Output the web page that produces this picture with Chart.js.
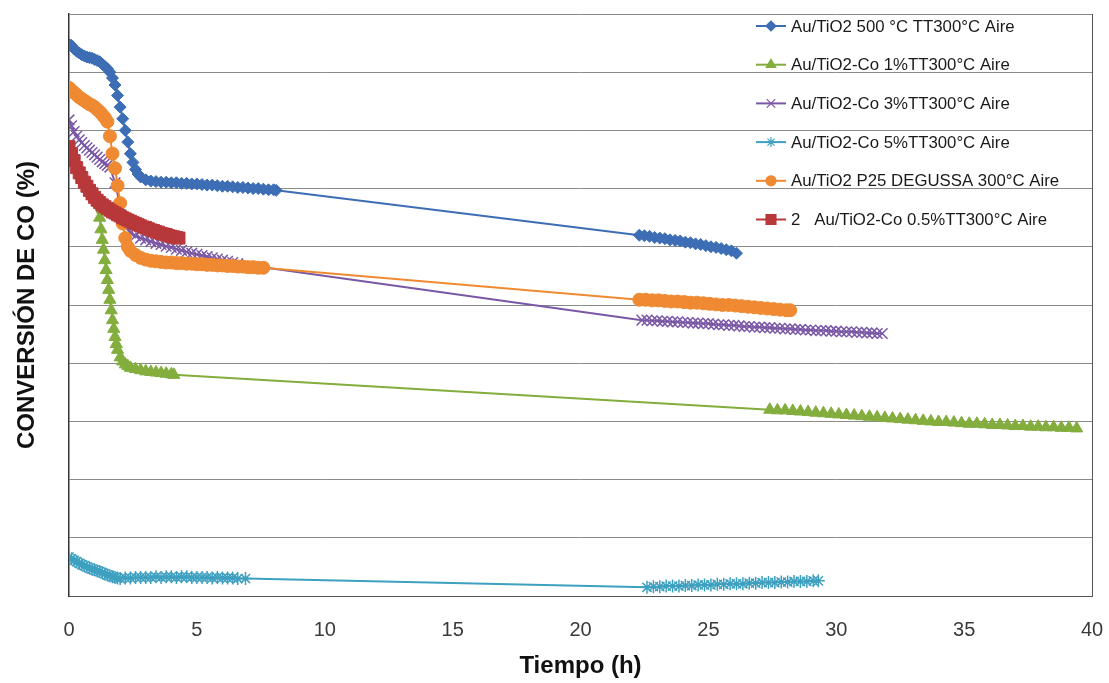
<!DOCTYPE html>
<html>
<head>
<meta charset="utf-8">
<script src="https://cdn.jsdelivr.net/npm/chart.js@4.4.1/dist/chart.umd.min.js"></script>
<style>
html,body{margin:0;padding:0;background:#fff;}
#wrap{position:relative;width:1109px;height:683px;}
</style>
</head>
<body>
<div id="wrap"><canvas id="c" width="1109" height="683"></canvas></div>
<script>
// ---- data ----
const seriesNames = [
  "Au/TiO2 500 \u00B0C TT300\u00B0C Aire",
  "Au/TiO2-Co 1%TT300\u00B0C Aire",
  "Au/TiO2-Co 3%TT300\u00B0C Aire",
  "Au/TiO2-Co 5%TT300\u00B0C Aire",
  "Au/TiO2 P25 DEGUSSA 300\u00B0C Aire",
  "2   Au/TiO2-Co 0.5%TT300\u00B0C Aire"
];
const xTicks = [0, 5, 10, 15, 20, 25, 30, 35, 40];

const blueTime = [0,0.1,0.2,0.3,0.4,0.5,0.6,0.7,0.8,0.9,1.0,1.1,1.2,1.3,1.4,1.5,1.6,1.7,1.8,1.9,2.0,2.1,2.2,2.3,2.4,2.5,2.6,2.7,2.8,3.0,3.2,3.4,3.6,3.8,4.0,4.2,4.4,4.6,4.8,5.0,5.2,5.4,5.6,5.8,6.0,6.2,6.4,6.6,6.8,7.0,7.2,7.4,7.6,7.8,8.0,8.1,
  22.3,22.5,22.7,22.9,23.1,23.3,23.5,23.7,23.9,24.1,24.3,24.5,24.7,24.9,25.1,25.3,25.5,25.7,25.9,26.1];
const blueConv = [94.8,94.6,94.0,93.6,93.3,93.0,92.8,92.6,92.5,92.4,92.2,92.0,91.8,91.4,91.0,90.6,90.0,89.0,87.8,86.0,84.0,82.0,80.0,78.0,76.0,74.5,73.3,72.5,72.0,71.5,71.3,71.2,71.1,71.1,71.0,71.0,70.9,70.9,70.8,70.8,70.7,70.6,70.6,70.5,70.4,70.4,70.3,70.2,70.2,70.1,70.0,70.0,69.9,69.8,69.8,69.7,
  62.0,61.9,61.8,61.6,61.5,61.4,61.2,61.1,61.0,60.8,60.7,60.5,60.4,60.2,60.0,59.9,59.7,59.5,59.3,58.9];

const greenTime = [0,1.2,1.25,1.3,1.35,1.4,1.45,1.5,1.55,1.6,1.65,1.7,1.75,1.8,1.85,1.9,2.0,2.1,2.2,2.3,2.4,2.6,2.8,3.0,3.2,3.4,3.6,3.8,4.0,4.1,
  27.4,27.7,28.0,28.3,28.6,28.9,29.2,29.5,29.8,30.1,30.4,30.7,31.0,31.3,31.6,31.9,32.2,32.5,32.8,33.1,33.4,33.7,34.0,34.3,34.6,34.9,35.2,35.5,35.8,36.1,36.4,36.7,37.0,37.3,37.6,37.9,38.2,38.5,38.8,39.1,39.4];
const greenConv = [76.5,65.0,63.0,61.2,59.5,57.7,56.0,54.3,52.6,50.9,49.1,47.4,45.9,44.5,43.3,42.3,41.0,40.3,39.8,39.5,39.2,39.0,38.8,38.6,38.5,38.4,38.3,38.2,38.1,38.0,
  32.0,31.9,31.9,31.8,31.7,31.6,31.5,31.4,31.3,31.2,31.1,31.0,30.9,30.8,30.7,30.6,30.5,30.4,30.3,30.2,30.1,30.0,29.9,29.9,29.8,29.7,29.6,29.6,29.5,29.4,29.4,29.3,29.2,29.2,29.1,29.1,29.0,29.0,28.9,28.9,28.8];

const purpleTime = [0,0.1,0.2,0.3,0.4,0.5,0.6,0.7,0.8,0.9,1.0,1.1,1.2,1.3,1.4,1.5,1.6,1.8,2.0,2.2,2.4,2.6,2.8,3.0,3.2,3.4,3.6,3.8,4.0,4.2,4.4,4.6,4.8,5.0,5.2,5.4,5.6,5.8,6.0,6.2,6.4,6.6,
  22.4,22.6,22.8,23.0,23.2,23.4,23.6,23.8,24.0,24.2,24.4,24.6,24.8,25.0,25.2,25.4,25.6,25.8,26.0,26.2,26.4,26.6,26.8,27.0,27.2,27.4,27.6,27.8,28.0,28.2,28.4,28.6,28.8,29.0,29.2,29.4,29.6,29.8,30.0,30.2,30.4,30.6,30.8,31.0,31.2,31.4,31.6,31.8];
const purpleConv = [81.8,80.8,79.8,79.0,78.4,77.9,77.4,77.0,76.6,76.2,75.8,75.4,75.0,74.6,74.3,74.0,73.7,71.0,67.0,64.0,62.4,61.9,61.5,61.2,60.9,60.6,60.4,60.1,59.9,59.6,59.4,59.1,58.9,58.7,58.5,58.3,58.1,57.9,57.7,57.5,57.3,57.1,
  47.4,47.4,47.3,47.3,47.2,47.2,47.1,47.1,47.0,47.0,46.9,46.9,46.8,46.8,46.7,46.6,46.6,46.5,46.5,46.4,46.3,46.3,46.2,46.2,46.1,46.1,46.0,46.0,45.9,45.9,45.8,45.8,45.7,45.7,45.6,45.6,45.6,45.5,45.5,45.4,45.4,45.4,45.3,45.3,45.2,45.2,45.1,45.1];

const tealTime = [0,0.1,0.2,0.3,0.4,0.5,0.6,0.7,0.8,0.9,1.0,1.1,1.2,1.3,1.4,1.5,1.6,1.7,1.8,1.9,2.0,2.2,2.4,2.6,2.8,3.0,3.2,3.4,3.6,3.8,4.0,4.2,4.4,4.6,4.8,5.0,5.2,5.4,5.6,5.8,6.0,6.2,6.4,6.6,6.9,
  22.6,22.85,23.1,23.35,23.6,23.85,24.1,24.35,24.6,24.85,25.1,25.35,25.6,25.85,26.1,26.35,26.6,26.85,27.1,27.35,27.6,27.85,28.1,28.35,28.6,28.85,29.1,29.3];
const tealConv = [6.7,6.4,6.1,5.9,5.6,5.4,5.2,5.0,4.8,4.6,4.5,4.3,4.2,4.0,3.8,3.6,3.5,3.3,3.2,3.1,3.0,3.1,3.1,3.2,3.2,3.2,3.2,3.3,3.2,3.3,3.3,3.2,3.3,3.3,3.2,3.2,3.2,3.2,3.1,3.2,3.1,3.1,3.1,3.0,3.0,
  1.5,1.6,1.6,1.7,1.7,1.7,1.8,1.8,1.9,1.9,1.9,2.0,2.0,2.1,2.1,2.1,2.2,2.2,2.3,2.3,2.3,2.4,2.4,2.5,2.5,2.5,2.6,2.6];

const orangeTime = [0,0.1,0.2,0.3,0.4,0.5,0.6,0.7,0.8,0.9,1.0,1.1,1.2,1.3,1.4,1.5,1.6,1.7,1.8,1.9,2.0,2.1,2.2,2.3,2.4,2.6,2.8,3.0,3.2,3.4,3.6,3.8,4.0,4.2,4.4,4.6,4.8,5.0,5.2,5.4,5.6,5.8,6.0,6.2,6.4,6.6,6.8,7.0,7.2,7.4,7.6,
  22.3,22.55,22.8,23.05,23.3,23.55,23.8,24.05,24.3,24.55,24.8,25.05,25.3,25.55,25.8,26.05,26.3,26.55,26.8,27.05,27.3,27.55,27.8,28.05,28.2];
const orangeConv = [87.3,86.9,86.5,86.1,85.7,85.4,85.1,84.8,84.5,84.3,84.0,83.6,83.2,82.7,82.2,81.5,79.0,76.0,73.5,70.5,67.5,64.0,61.5,60.0,59.3,58.6,58.1,57.8,57.6,57.5,57.4,57.3,57.3,57.2,57.2,57.1,57.1,57.0,57.0,56.9,56.9,56.8,56.8,56.7,56.7,56.6,56.6,56.5,56.5,56.4,56.4,
  50.9,50.9,50.8,50.8,50.7,50.6,50.6,50.5,50.4,50.4,50.3,50.2,50.1,50.0,50.0,49.9,49.8,49.7,49.6,49.5,49.4,49.3,49.2,49.1,49.1];

const redTime = [0,0.1,0.2,0.3,0.4,0.5,0.6,0.7,0.8,0.9,1.0,1.1,1.2,1.3,1.4,1.5,1.6,1.7,1.8,1.9,2.0,2.1,2.2,2.3,2.4,2.5,2.6,2.7,2.8,2.9,3.0,3.1,3.2,3.3,3.4,3.5,3.6,3.7,3.8,3.9,4.0,4.1,4.2,4.3];
const redConv = [77.2,76.0,74.8,73.6,72.7,71.9,71.1,70.4,69.7,69.1,68.5,68.0,67.6,67.2,66.9,66.6,66.3,66.0,65.8,65.5,65.3,65.0,64.8,64.6,64.4,64.2,64.0,63.8,63.6,63.4,63.3,63.1,62.9,62.8,62.6,62.5,62.3,62.2,62.1,61.9,61.8,61.7,61.6,61.5];

// ---- styles ----
const colors = ['#3D6EB5', '#83AD3D', '#7A58A6', '#3EA0C0', '#EF8A32', '#B8393B'];
const pointStyles = ['rectRot', 'triangle', 'crossRot', 'star', 'circle', 'rect'];
const pointRadii = [6, 7, 7.5, 6.5, 6.5, 8.5];
const legendRadii = [5, 5.5, 6, 5, 5, 7];

const pairs = (t, v) => t.map((x, i) => ({ x: x, y: v[i] }));
const allData = [
  pairs(blueTime, blueConv),
  pairs(greenTime, greenConv),
  pairs(purpleTime, purpleConv),
  pairs(tealTime, tealConv),
  pairs(orangeTime, orangeConv),
  pairs(redTime, redConv)
];

const datasets = allData.map((d, i) => ({
  label: seriesNames[i],
  data: d,
  borderColor: colors[i],
  backgroundColor: colors[i],
  pointBackgroundColor: colors[i],
  pointBorderColor: colors[i],
  pointStyle: pointStyles[i],
  pointRadius: pointRadii[i],
  pointBorderWidth: (pointStyles[i] === 'crossRot' || pointStyles[i] === 'star') ? 1.5 : 1,
  borderWidth: 2,
  tension: 0,
  order: 5 - i
}));

const frame = {
  id: 'frame',
  beforeDatasetsDraw(chart) {
    const { ctx, chartArea: a } = chart;
    ctx.save();
    ctx.strokeStyle = '#555';
    ctx.lineWidth = 1;
    ctx.beginPath();
    ctx.moveTo(a.right + 0.5, a.top);
    ctx.lineTo(a.right + 0.5, a.bottom);
    ctx.stroke();
    ctx.restore();
  }
};

const customLegend = {
  id: 'customLegend',
  afterDraw(chart) {
    const ctx = chart.ctx;
    const x0 = 756, x1 = 786, tx = 791, y0 = 26, dy = 38.7;
    ctx.save();
    chart.data.datasets.forEach((ds, i) => {
      const y = y0 + i * dy;
      ctx.strokeStyle = ds.borderColor;
      ctx.lineWidth = 2;
      ctx.beginPath();
      ctx.moveTo(x0, y);
      ctx.lineTo(x1, y);
      ctx.stroke();
      ctx.fillStyle = ds.backgroundColor;
      ctx.strokeStyle = ds.borderColor;
      ctx.lineWidth = 1.2;
      Chart.helpers.drawPoint(ctx, { pointStyle: ds.pointStyle, radius: legendRadii[i], borderWidth: 1.2, rotation: 0 }, (x0 + x1) / 2, y);
      ctx.fillStyle = '#1a1a1a';
      ctx.font = '16.8px "Liberation Sans", Arial, sans-serif';
      ctx.textBaseline = 'middle';
      ctx.textAlign = 'left';
      ctx.fillText(ds.label, tx, y + 1);
    });
    ctx.restore();
  }
};

new Chart(document.getElementById('c'), {
  type: 'line',
  data: { datasets: datasets },
  plugins: [frame, customLegend],
  options: {
    responsive: false,
    animation: false,
    layout: { padding: { left: 0, right: 17, top: 14, bottom: 0 } },
    plugins: { legend: { display: false }, tooltip: { enabled: false } },
    scales: {
      x: {
        type: 'linear',
        min: 0, max: 40,
        afterBuildTicks(s) { s.ticks = xTicks.map(v => ({ value: v })); },
        afterFit(s) { s.height = 87; s.paddingLeft = 0; s.paddingRight = 0; },
        grid: { display: false, drawTicks: false },
        border: { display: true, color: '#555', width: 1 },
        ticks: { padding: 22, color: '#3a3a3a', font: { family: '"Liberation Sans", Arial, sans-serif', size: 20 }, maxRotation: 0 },
        title: { display: true, text: 'Tiempo (h)', color: '#111', padding: { top: 0, bottom: 2 }, font: { family: '"Liberation Sans", Arial, sans-serif', size: 24, weight: 'bold' } }
      },
      y: {
        min: 0, max: 100,
        afterFit(s) { s.width = 69; },
        ticks: { display: false, stepSize: 10 },
        grid: { color: '#8a8a8a', lineWidth: 1, drawTicks: false },
        border: { display: true, color: '#333', width: 1.5 },
        title: { display: true, text: 'CONVERSI\u00D3N DE CO (%)', color: '#111', padding: { top: 13, bottom: 0 }, font: { family: '"Liberation Sans", Arial, sans-serif', size: 24, weight: 'bold' } }
      }
    }
  }
});
</script>
</body>
</html>
